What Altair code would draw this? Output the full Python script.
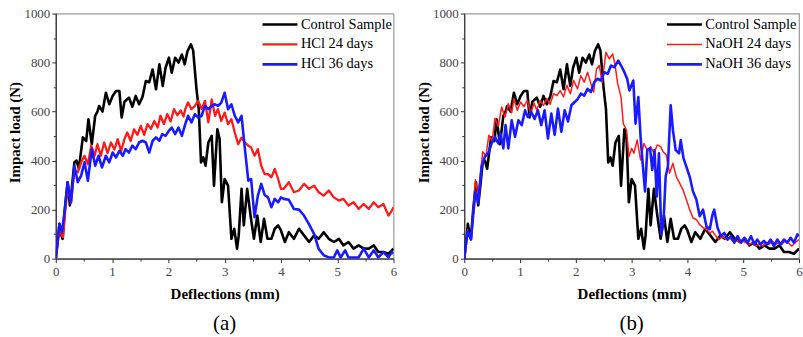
import altair as alt
import pandas as pd

# ---------------- data ----------------
ctrl_x = [0.00, 0.03, 0.065, 0.10, 0.12, 0.16, 0.21, 0.25, 0.29, 0.33, 0.37, 0.41, 0.45, 0.48, 0.54, 0.58, 0.64, 0.70, 0.74, 0.77,
          0.83, 0.89, 0.95, 1.01, 1.07, 1.13, 1.17, 1.22, 1.30, 1.36, 1.42, 1.48, 1.54, 1.60, 1.66, 1.72, 1.78, 1.84, 1.90, 1.95,
          2.01, 2.06, 2.12, 2.18, 2.24, 2.29, 2.34, 2.40, 2.44, 2.50, 2.54, 2.58, 2.62, 2.66, 2.71, 2.77, 2.81, 2.87, 2.91, 2.95,
          3.00, 3.06, 3.12, 3.17, 3.22, 3.25, 3.30, 3.34, 3.40, 3.46, 3.52, 3.58, 3.64, 3.70, 3.76, 3.83, 3.89, 3.95, 4.00, 4.07,
          4.14, 4.23, 4.32, 4.41, 4.50, 4.59, 4.67, 4.76, 4.85, 4.94, 5.03, 5.11, 5.20, 5.29, 5.38, 5.47, 5.56, 5.65, 5.73, 5.82,
          5.91, 6.00]
ctrl_y = [0, 60, 142, 95, 81, 200, 312, 217, 300, 393, 400, 366, 440, 495, 480, 569, 467, 583, 600, 623,
          600, 677, 630, 664, 684, 684, 576, 640, 657, 620, 664, 630, 660, 725, 720, 772, 691, 793, 705, 779,
          820, 759, 820, 800, 833, 793, 847, 874, 850, 691, 610, 393, 413, 379, 474, 501, 298, 528, 488, 230,
          325, 298, 81, 122, 41, 95, 285, 136, 285, 176, 81, 176, 68, 163, 81, 81, 122, 136, 115, 68,
          108, 81, 122, 95, 68, 95, 81, 108, 81, 68, 81, 54, 68, 41, 54, 41, 41, 54, 27, 27,
          20, 41]

hcl24_x = [0.00, 0.03, 0.065, 0.10, 0.13, 0.17, 0.21, 0.27, 0.33, 0.39, 0.45, 0.51, 0.57, 0.63, 0.69, 0.74, 0.80, 0.86, 0.92, 0.98,
           1.04, 1.10, 1.16, 1.22, 1.27, 1.33, 1.39, 1.45, 1.51, 1.57, 1.63, 1.69, 1.75, 1.81, 1.86, 1.92, 1.98, 2.04, 2.10, 2.16,
           2.22, 2.27, 2.30, 2.35, 2.41, 2.47, 2.53, 2.59, 2.65, 2.71, 2.77, 2.83, 2.88, 2.94, 3.00, 3.06, 3.12, 3.18, 3.24, 3.30,
           3.36, 3.42, 3.47, 3.53, 3.59, 3.65, 3.71, 3.77, 3.83, 3.89, 3.95, 4.00, 4.05, 4.14, 4.23, 4.32, 4.41, 4.50, 4.59, 4.67,
           4.76, 4.85, 4.94, 5.03, 5.11, 5.20, 5.29, 5.38, 5.47, 5.56, 5.65, 5.73, 5.82, 5.91, 5.97, 6.00]
hcl24_y = [0, 60, 120, 100, 88, 200, 290, 230, 360, 352, 393, 420, 385, 461, 420, 467, 420, 474, 430, 474,
           445, 488, 440, 488, 515, 480, 528, 505, 542, 505, 549, 530, 562, 535, 583, 549, 590, 560, 610, 585,
           605, 580, 610, 637, 610, 623, 644, 610, 644, 556, 650, 583, 610, 562, 596, 549, 569, 515, 467, 494,
           474, 461, 454, 420, 447, 379, 345, 345, 332, 366, 325, 285, 285, 312, 271, 278, 305, 285, 298, 271,
           257, 278, 250, 237, 244, 217, 230, 203, 223, 203, 230, 210, 223, 176, 196, 210]

hcl36_x = [0.00, 0.03, 0.065, 0.11, 0.16, 0.21, 0.27, 0.33, 0.39, 0.45, 0.51, 0.57, 0.64, 0.70, 0.76, 0.82, 0.89, 0.95, 1.01, 1.07,
           1.13, 1.19, 1.24, 1.30, 1.36, 1.42, 1.48, 1.54, 1.60, 1.66, 1.72, 1.78, 1.84, 1.89, 1.95, 2.01, 2.06, 2.12, 2.18, 2.24,
           2.30, 2.35, 2.41, 2.47, 2.53, 2.59, 2.65, 2.71, 2.77, 2.83, 2.88, 2.94, 3.00, 3.06, 3.12, 3.18, 3.24, 3.30, 3.36, 3.42,
           3.47, 3.53, 3.59, 3.65, 3.71, 3.77, 3.83, 3.89, 3.95, 4.00, 4.05, 4.14, 4.23, 4.32, 4.41, 4.50, 4.59, 4.67, 4.76, 4.85,
           4.94, 5.00, 5.06, 5.14, 5.20, 5.29, 5.38, 5.47, 5.56, 5.65, 5.73, 5.82, 5.91, 5.97, 6.00]
hcl36_y = [0, 70, 142, 108, 200, 312, 230, 379, 312, 339, 393, 318, 447, 379, 420, 372, 420, 393, 433, 413,
           440, 420, 447, 433, 461, 447, 474, 481, 474, 433, 481, 495, 481, 508, 501, 522, 535, 508, 535, 501,
           549, 583, 556, 589, 576, 583, 623, 610, 623, 630, 623, 637, 677, 610, 630, 583, 556, 583, 447, 318,
           325, 169, 257, 305, 260, 250, 210, 244, 230, 250, 244, 240, 203, 200, 176, 140, 100, 40, 14, 5,
           5, 34, 5, 34, 5, 5, 5, 41, 5, 34, 5, 27, 5, 27, 20]

naoh24_x = [0.00, 0.03, 0.06, 0.12, 0.16, 0.20, 0.25, 0.33, 0.39, 0.44, 0.50, 0.55, 0.61, 0.67, 0.73, 0.79, 0.85, 0.89, 0.95, 1.01,
            1.07, 1.13, 1.19, 1.25, 1.30, 1.36, 1.42, 1.48, 1.54, 1.60, 1.66, 1.72, 1.78, 1.84, 1.90, 1.96, 2.03, 2.09, 2.15, 2.21,
            2.27, 2.32, 2.37, 2.42, 2.47, 2.54, 2.60, 2.66, 2.70, 2.75, 2.81, 2.85, 2.91, 2.95, 3.00, 3.04, 3.10, 3.16, 3.22, 3.28,
            3.34, 3.40, 3.46, 3.52, 3.56, 3.62, 3.68, 3.74, 3.80, 3.86, 3.92, 3.98, 4.04, 4.10, 4.16, 4.22, 4.28, 4.34, 4.40, 4.45,
            4.51, 4.57, 4.63, 4.69, 4.75, 4.81, 4.87, 4.93, 4.99, 5.05, 5.11, 5.17, 5.23, 5.29, 5.35, 5.40, 5.46, 5.52, 5.58, 5.64,
            5.69, 5.75, 5.81, 5.87, 5.93, 6.00]
naoh24_y = [0, 60, 119, 78, 200, 322, 254, 436, 420, 504, 480, 572, 540, 619, 578, 632, 595, 653, 605, 639,
            620, 646, 592, 635, 605, 646, 625, 653, 630, 673, 665, 686, 660, 707, 673, 727, 693, 747, 720, 761,
            714, 680, 774, 788, 720, 842, 815, 835, 795, 714, 659, 551, 524, 416, 450, 430, 484, 403, 470, 443,
            457, 430, 464, 457, 437, 423, 349, 389, 335, 308, 281, 241, 200, 166, 160, 139, 126, 120, 105, 112,
            92, 78, 92, 78, 85, 72, 78, 65, 72, 65, 58, 65, 51, 58, 51, 65, 58, 72, 58, 65,
            58, 72, 65, 51, 65, 78]

naoh36_x = [0.00, 0.03, 0.06, 0.12, 0.16, 0.20, 0.25, 0.31, 0.37, 0.43, 0.49, 0.55, 0.61, 0.65, 0.70, 0.74, 0.79, 0.85, 0.91, 0.97,
            1.03, 1.09, 1.14, 1.20, 1.26, 1.32, 1.38, 1.44, 1.50, 1.56, 1.62, 1.68, 1.74, 1.80, 1.86, 1.92, 1.98, 2.03, 2.09, 2.15,
            2.21, 2.27, 2.33, 2.39, 2.45, 2.51, 2.57, 2.63, 2.69, 2.76, 2.81, 2.87, 2.92, 2.96, 3.03, 3.07, 3.12, 3.16, 3.19, 3.24,
            3.28, 3.33, 3.37, 3.41, 3.45, 3.49, 3.53, 3.57, 3.61, 3.65, 3.70, 3.74, 3.79, 3.85, 3.88, 3.93, 3.98, 4.04, 4.10, 4.16,
            4.22, 4.28, 4.34, 4.40, 4.45, 4.48, 4.54, 4.60, 4.66, 4.72, 4.78, 4.84, 4.90, 4.96, 5.02, 5.08, 5.14, 5.20, 5.25, 5.31,
            5.37, 5.43, 5.49, 5.55, 5.61, 5.67, 5.73, 5.79, 5.85, 5.91, 5.97, 6.00]
naoh36_y = [0, 60, 112, 78, 180, 274, 227, 376, 416, 430, 470, 497, 470, 511, 450, 545, 450, 565, 497, 565,
            545, 605, 578, 599, 570, 605, 545, 605, 490, 592, 505, 612, 518, 605, 560, 626, 639, 650, 673, 665,
            693, 680, 720, 734, 727, 761, 754, 788, 781, 808, 788, 761, 734, 686, 727, 551, 659, 497, 409, 274,
            443, 450, 362, 443, 254, 430, 100, 146, 335, 376, 626, 524, 443, 430, 484, 409, 376, 335, 274, 241,
            173, 200, 132, 120, 180, 200, 126, 92, 105, 78, 92, 65, 92, 65, 85, 65, 92, 58, 78, 58,
            72, 58, 78, 51, 78, 58, 78, 65, 85, 65, 99, 92]

names_a = ["Control Sample", "HCl 24 days", "HCl 36 days"]
names_b = ["Control Sample", "NaOH 24 days", "NaOH 36 days"]
colors = ["#000000", "#ff1a1a", "#1a1aff"]
widths_a = [2.6, 2.3, 2.6]
widths_b = [2.6, 1.5, 2.6]

x_ticks = [0, 1, 2, 3, 4, 5, 6]
x_minor = [0.5, 1.5, 2.5, 3.5, 4.5, 5.5]
y_ticks = [0, 200, 400, 600, 800, 1000]
y_minor = [100, 300, 500, 700, 900]

SERIF = "Liberation Serif"


def legend_spec(legend_x):
    return alt.Legend(title=None, orient="none", legendX=legend_x, legendY=1,
                      symbolType="stroke", symbolSize=1225,
                      clipHeight=20, rowPadding=0, padding=0, labelOffset=2)


def panel(series, names, widths, caption, legend_x, width):
    frames = []
    for (xs, ys), nm in zip(series, names):
        frames.append(pd.DataFrame({"x": xs, "y": ys, "s": nm}))
    df = pd.concat(frames, ignore_index=True)
    base = alt.Chart(df)
    xscale = alt.Scale(domain=[0, 6], nice=False, zero=False)
    yscale = alt.Scale(domain=[0, 1000], nice=False)
    lines = base.mark_line(clip=True, strokeJoin="round").encode(
        x=alt.X("x:Q", scale=xscale,
                axis=alt.Axis(values=x_ticks, orient="bottom", title="Deflections (mm)", format="d",
                              labelFlush=False, tickSize=4, labelPadding=3, titlePadding=8)),
        y=alt.Y("y:Q", scale=yscale,
                axis=alt.Axis(values=y_ticks, orient="left", title="Impact load (N)", format="d",
                              tickSize=4, labelPadding=2, titlePadding=1, titleY=119)),
        color=alt.Color("s:N", scale=alt.Scale(domain=names, range=colors), legend=legend_spec(legend_x)),
        strokeWidth=alt.StrokeWidth("s:N", scale=alt.Scale(type="ordinal", domain=names, range=widths),
                                    legend=legend_spec(legend_x)),
        detail="s:N",
    )
    minor = base.mark_line(opacity=0).encode(
        x=alt.X("x:Q", scale=xscale,
                axis=alt.Axis(values=x_minor, orient="bottom", labels=False, title=None,
                              domain=False, tickSize=2.5)),
        y=alt.Y("y:Q", scale=yscale,
                axis=alt.Axis(values=y_minor, orient="left", labels=False, title=None,
                              domain=False, tickSize=2.5)),
        detail="s:N",
    )
    return alt.layer(lines, minor).resolve_axis(x="independent", y="independent").properties(
        width=width, height=246,
        title=alt.TitleParams(caption, orient="bottom", font=SERIF, fontSize=21, fontWeight="normal",
                              color="#000", offset=12, anchor="middle"),
    )


pa = panel([(ctrl_x, ctrl_y), (hcl24_x, hcl24_y), (hcl36_x, hcl36_y)], names_a, widths_a, "(a)", 206, 339)
pb = panel([(ctrl_x, ctrl_y), (naoh24_x, naoh24_y), (naoh36_x, naoh36_y)], names_b, widths_b, "(b)", 202, 336)

chart = alt.hconcat(pa, pb, spacing=18).resolve_scale(
    color="independent", strokeWidth="independent"
).resolve_legend(color="independent", strokeWidth="independent").properties(
    padding={"left": 7, "top": 6, "right": 0, "bottom": 0},
    background="white",
).configure_view(
    stroke="#999", strokeWidth=1.2
).configure_axis(
    grid=False, labelOverlap=False,
    labelFont=SERIF, labelFontSize=13, labelColor="#444",
    titleFont=SERIF, titleFontSize=15, titleFontWeight="bold", titleColor="#000",
    domainColor="#333", tickColor="#333", domainWidth=1.2,
).configure_legend(
    labelFont=SERIF, labelFontSize=14.5, labelColor="#000",
)

chart.save("out.html", embed_options={"renderer": "svg", "actions": False})
